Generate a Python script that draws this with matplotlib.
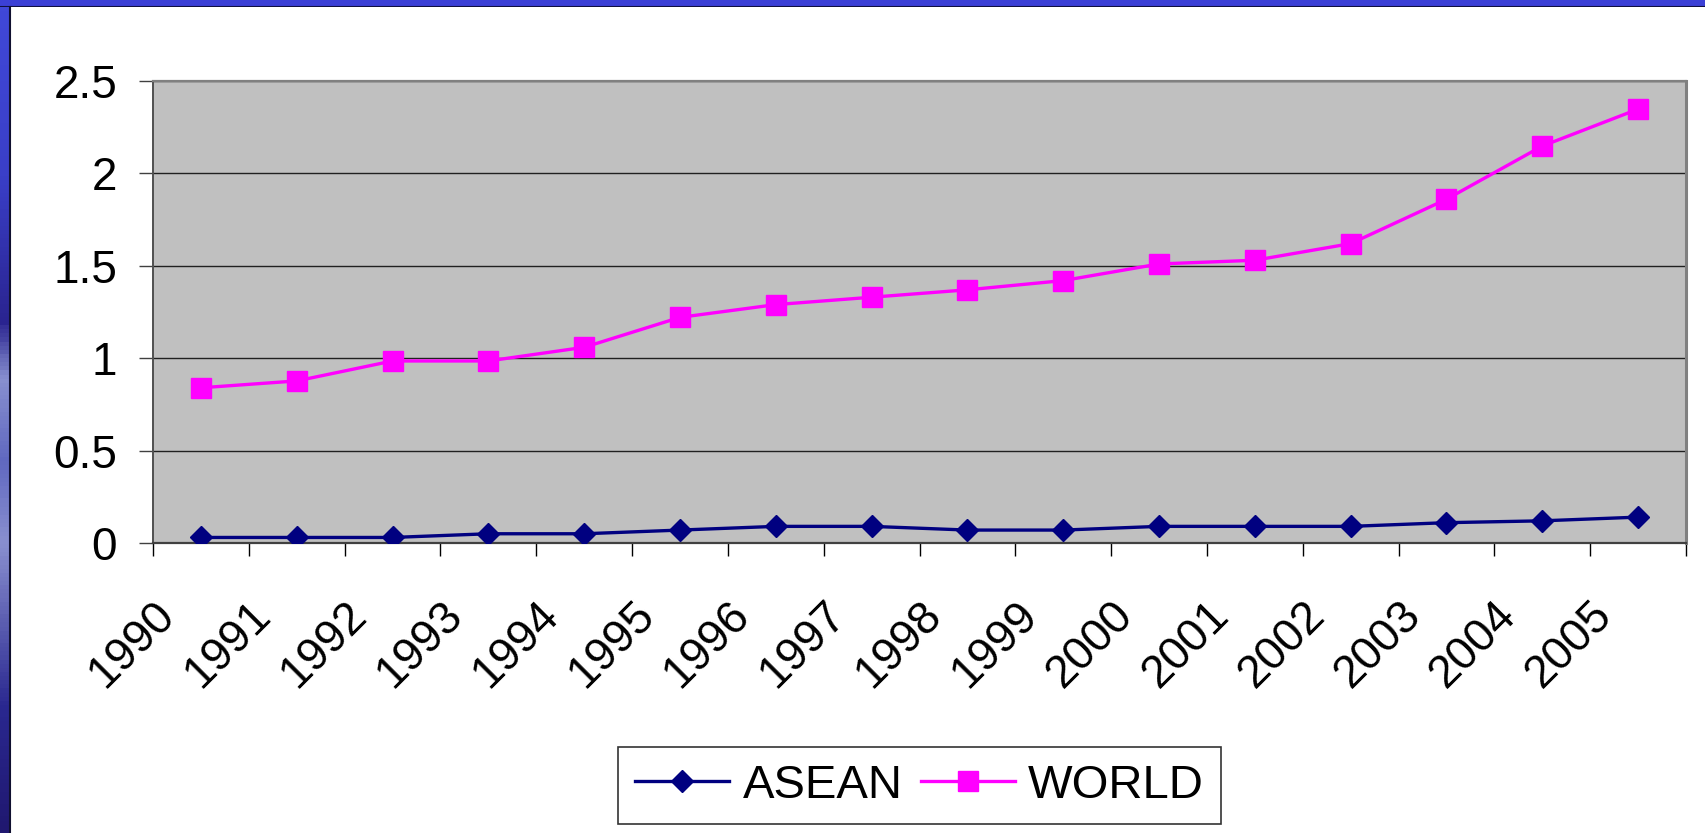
import numpy as np
import matplotlib
matplotlib.use('Agg')
import matplotlib.pyplot as plt
from matplotlib.transforms import blended_transform_factory, ScaledTranslation
from matplotlib.colors import LinearSegmentedColormap

plt.rcParams['font.family'] = ['Liberation Sans', 'DejaVu Sans']

# data
years = ['1990', '1991', '1992', '1993', '1994', '1995', '1996', '1997',
         '1998', '1999', '2000', '2001', '2002', '2003', '2004', '2005']
asean = [0.03, 0.03, 0.03, 0.05, 0.05, 0.07, 0.09, 0.09,
         0.07, 0.07, 0.09, 0.09, 0.09, 0.11, 0.12, 0.14]
world = [0.84, 0.877, 0.985, 0.985, 1.059, 1.221, 1.29, 1.33,
         1.37, 1.42, 1.51, 1.53, 1.62, 1.86, 2.148, 2.348]
yticks = [0, 0.5, 1, 1.5, 2, 2.5]
ytick_labels = ['0', '0.5', '1', '1.5', '2', '2.5']

fig = plt.figure(figsize=(17.05, 8.33), dpi=100)
fig.patch.set_facecolor('white')

# slide border: blue band on top, gradient strip on the left
top = fig.add_axes([0, 1 - 7 / 833, 1, 7 / 833])
top.set_facecolor('#3b40d6')
top.set_xticks([]); top.set_yticks([])
for s in top.spines.values():
    s.set_visible(False)
top.axhline(0, color='#101040', lw=1.5)

left = fig.add_axes([0, 0, 9 / 1705, 1 - 7 / 833])
cmap = LinearSegmentedColormap.from_list('strip', [
    (0.0, '#201870'), (0.15, '#2a2890'), (0.35, '#8a90d0'), (0.45, '#6068c0'),
    (0.55, '#8890d0'), (0.62, '#2a2490'), (0.8, '#3a3fc8'), (1.0, '#4048d8')])
left.imshow(np.linspace(0, 1, 200).reshape(-1, 1), aspect='auto', cmap=cmap,
            origin='lower', extent=[0, 1, 0, 1])
left.set_xticks([]); left.set_yticks([])
for s in left.spines.values():
    s.set_visible(False)
fig.add_artist(plt.Line2D([9.5 / 1705, 9.5 / 1705], [0, 1 - 7 / 833],
                          transform=fig.transFigure, color='#101030', lw=1.5))

# main chart
ax = fig.add_axes([153 / 1705, 290 / 833, 1533 / 1705, 462 / 833])
ax.set_facecolor('#c0c0c0')
x = np.arange(len(years))

ax.plot(x, asean, color='#000080', lw=2.4, marker='D', ms=11.7,
        mec='#000080', mfc='#000080', label='ASEAN', zorder=3)
ax.plot(x, world, color='#ff00ff', lw=2.4, marker='s', ms=14.4,
        mec='#ff00ff', mfc='#ff00ff', label='WORLD', zorder=3)

ax.set_xlim(-0.5, len(years) - 0.5)
ax.set_ylim(0, 2.5)
ax.set_yticks(yticks)
ax.set_yticklabels(ytick_labels, fontsize=33)
ax.yaxis.grid(True, color='#202020', lw=1.0)
ax.set_axisbelow(True)
ax.tick_params(axis='y', length=10, width=1, color='#404040', pad=15.8)

ax.set_xticks([])
ax.set_xticks(np.arange(-0.5, len(years)), minor=True)
ax.tick_params(axis='x', which='minor', length=9.5, width=1, color='black')

ax.spines['top'].set_color('#808080')
ax.spines['top'].set_linewidth(1.6)
ax.spines['right'].set_color('#808080')
ax.spines['right'].set_linewidth(2.2)
ax.spines['left'].set_color('#505050')
ax.spines['left'].set_linewidth(1.4)
ax.spines['bottom'].set_color('#404040')
ax.spines['bottom'].set_linewidth(1.6)

# rotated year labels
trans = blended_transform_factory(ax.transData, ax.transAxes) + \
    ScaledTranslation(-24 / 100, -74 / 100, fig.dpi_scale_trans)
for i, yr in enumerate(years):
    ax.text(i, 0, yr, transform=trans, rotation=45, rotation_mode='anchor',
            ha='right', va='baseline', fontsize=33)

leg = ax.legend(loc='center', bbox_to_anchor=(919.5 / 1705, 1 - 785.5 / 833),
                bbox_transform=fig.transFigure, ncol=2, fontsize=34,
                frameon=True, fancybox=False, handlelength=2.0,
                handletextpad=0.28, columnspacing=0.38, borderpad=0.35,
                borderaxespad=0)
leg.get_frame().set_edgecolor('black')
leg.get_frame().set_linewidth(1.2)
for h in leg.get_lines():
    h.set_linewidth(2.4)

fig.savefig('out.png', dpi=100)
